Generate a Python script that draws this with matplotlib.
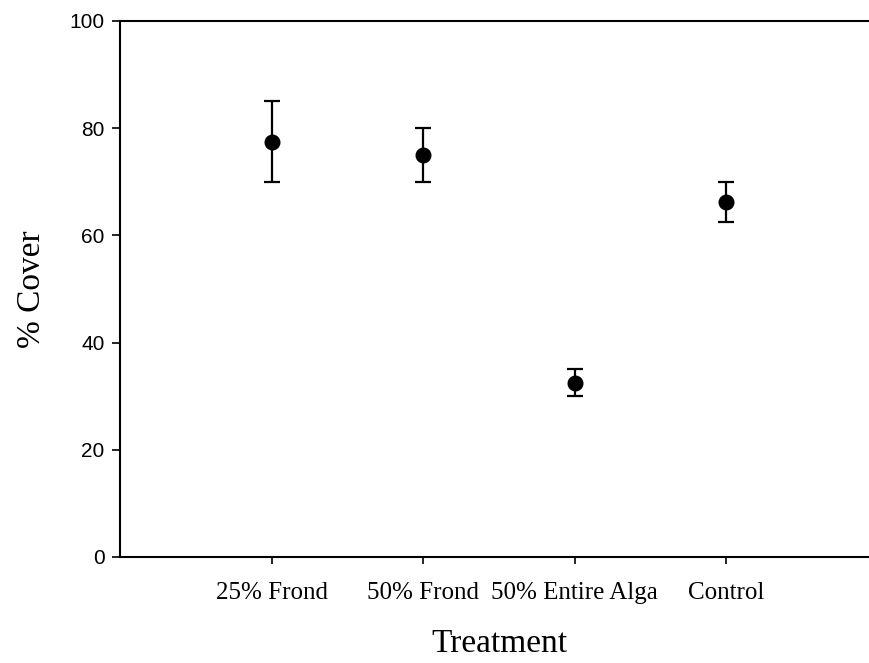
import matplotlib
matplotlib.use("Agg")
import matplotlib.pyplot as plt

# Percent cover by treatment, mean with error bar limits
treatments = ["25% Frond", "50% Frond", "50% Entire Alga", "Control"]
cover_mean = [77.5, 75.0, 32.5, 66.3]
cover_upper = [85.0, 80.0, 35.0, 70.0]
cover_lower = [70.0, 70.0, 30.0, 62.5]

positions = list(range(1, len(treatments) + 1))
err_low = [m - lo for m, lo in zip(cover_mean, cover_lower)]
err_high = [hi - m for m, hi in zip(cover_mean, cover_upper)]

fig = plt.figure(figsize=(8.7, 6.63), dpi=100)
ax = fig.add_axes([120 / 870, 106 / 663, 758 / 870, 536 / 663])

ax.errorbar(positions, cover_mean, yerr=[err_low, err_high],
            fmt="o", color="black", markersize=10.5, elinewidth=1.6,
            capsize=6, capthick=1.6)

ax.set_xlim(0, 5)
ax.set_ylim(0, 100)
ax.set_yticks([0, 20, 40, 60, 80, 100])
ax.set_xticks(positions)
ax.set_xticklabels(treatments, family="Liberation Serif", fontsize=18)
for lbl in ax.get_yticklabels():
    lbl.set_family("Liberation Sans")
    lbl.set_fontsize(15)

ax.spines["right"].set_visible(False)
for side in ("left", "bottom", "top"):
    ax.spines[side].set_linewidth(1.5)
ax.tick_params(axis="y", direction="out", length=6, width=1.2, pad=5)
ax.tick_params(axis="x", direction="out", length=5, width=1.2, pad=13)

ax.set_xlabel("Treatment", family="Liberation Serif", fontsize=24, labelpad=18)
ax.set_ylabel("% Cover", family="Liberation Serif", fontsize=24, labelpad=16)

fig.savefig("out.png", dpi=100)
